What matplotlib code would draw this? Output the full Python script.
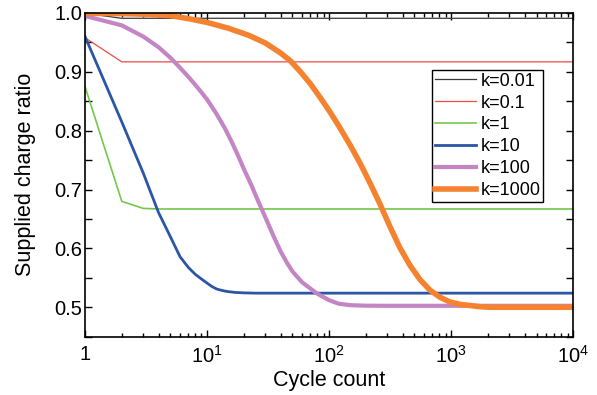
import matplotlib
matplotlib.use("Agg")
from matplotlib import pyplot as plt
from matplotlib.ticker import FixedLocator, NullFormatter, MultipleLocator

plt.rcParams["font.family"] = ["Liberation Sans", "DejaVu Sans"]
plt.rcParams["mathtext.fontset"] = "custom"
plt.rcParams["mathtext.rm"] = "Liberation Sans"
plt.rcParams["mathtext.it"] = "Liberation Sans:italic"

# values
n_k001 = [1, 2, 10000]
v_k001 = [0.9995, 0.991, 0.991]

n_k01 = [1, 2, 10000]
v_k01 = [0.958, 0.917, 0.917]

n_k1 = [1, 2, 3, 4, 10000]
v_k1 = [0.875, 0.680, 0.668, 0.667, 0.667]

n_k10 = [1, 2, 3, 4, 5, 6, 7, 8, 9, 10, 11, 12, 13, 14, 15, 17, 20, 25,
         10000]
v_k10 = [0.960, 0.815, 0.728, 0.661, 0.620, 0.586, 0.568, 0.556, 0.548,
         0.541, 0.535, 0.531, 0.529, 0.5275, 0.5265, 0.5252, 0.5245,
         0.524, 0.524]

n_k100 = [1, 2, 3, 4, 5, 6, 7, 8, 9, 10, 12, 14, 16, 18, 20, 23, 26, 30,
          35, 40, 45, 50, 60, 70, 80, 100, 120, 150, 200, 300, 10000]
v_k100 = [0.995, 0.979, 0.960, 0.942, 0.924, 0.907, 0.892, 0.878, 0.865,
          0.853, 0.828, 0.804, 0.780, 0.757, 0.735, 0.708, 0.682, 0.653,
          0.621, 0.595, 0.576, 0.561, 0.5425, 0.532, 0.523, 0.512, 0.506,
          0.5035, 0.5027, 0.5025, 0.5025]

n_k1000 = [1, 2, 3, 5, 7, 10, 15, 22, 30, 40, 48, 58, 70, 84, 100, 120,
           150, 180, 215, 260, 315, 380, 460, 555, 670, 810, 975, 1180,
           1420, 1720, 2080, 10000]
v_k1000 = [0.9995, 0.999, 0.998, 0.9955, 0.9905, 0.984, 0.974, 0.962,
           0.949, 0.932, 0.919, 0.9004, 0.880, 0.857, 0.834, 0.808, 0.774,
           0.744, 0.712, 0.676, 0.637, 0.601, 0.571, 0.547, 0.529, 0.517,
           0.509, 0.505, 0.503, 0.501, 0.500, 0.500]

labels = ["k=0.01", "k=0.1", "k=1", "k=10", "k=100", "k=1000"]
colors = ["#3a3a3a", "#f04a4a", "#74c74c", "#2b55a6", "#c485c4", "#f5822f"]
widths = [0.9, 0.9, 1.2, 2.0, 3.0, 4.0]
series = [(n_k001, v_k001), (n_k01, v_k01), (n_k1, v_k1),
          (n_k10, v_k10), (n_k100, v_k100), (n_k1000, v_k1000)]

fig = plt.figure(figsize=(5.97, 3.95), dpi=100)
ax = fig.add_axes([0.1424, 0.1476, 0.8179, 0.8195])

for (n, v), lab, c, w in zip(series, labels, colors, widths):
    ax.plot(n, v, color=c, lw=w, label=lab, solid_joinstyle="round")

ax.set_xscale("log")
ax.set_xlim(1, 1e4)
ax.set_ylim(0.45, 1.0)

ax.xaxis.set_major_locator(FixedLocator([1, 10, 100, 1000, 10000]))
ax.set_xticklabels(["1", "$10^1$", "$10^2$", "$10^3$", "$10^4$"])
ax.xaxis.set_minor_locator(FixedLocator(
    [m * 10 ** e for e in range(4) for m in range(2, 10)]))
ax.xaxis.set_minor_formatter(NullFormatter())
ax.yaxis.set_major_locator(MultipleLocator(0.1))
ax.yaxis.set_minor_locator(MultipleLocator(0.05))

ax.tick_params(which="both", direction="in", top=True, right=True,
               labelsize=14.5, width=1.0)
ax.tick_params(which="major", length=5)
ax.tick_params(which="minor", length=3)
ax.tick_params(axis="y", which="minor", length=5)
ax.tick_params(axis="x", which="major", pad=6)
ax.tick_params(axis="y", which="major", pad=2)
for s in ax.spines.values():
    s.set_linewidth(1.2)

ax.set_xlabel("Cycle count", fontsize=15.5, labelpad=2)
ax.set_ylabel("Supplied charge ratio", fontsize=15.5, labelpad=13)

leg = ax.legend(loc="upper left", bbox_to_anchor=(432 / 597, 1 - 70 / 395),
                bbox_transform=fig.transFigure, borderaxespad=0,
                fontsize=13, handlelength=2.27, handletextpad=0.28,
                labelspacing=0.27, borderpad=0.15, fancybox=False,
                framealpha=1)
leg.get_frame().set_edgecolor("black")
leg.get_frame().set_linewidth(1.0)

fig.savefig("out.png", dpi=100)
